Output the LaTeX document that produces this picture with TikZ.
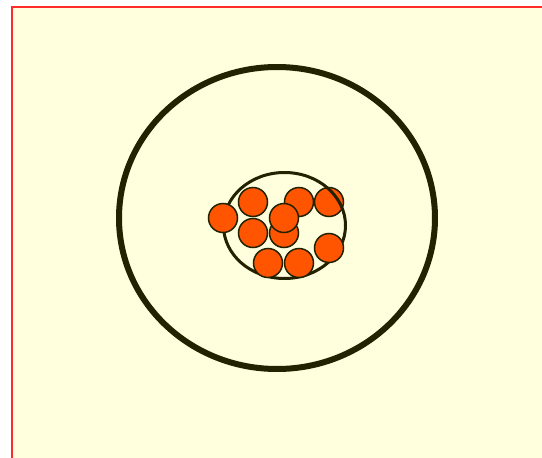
\documentclass[tikz,border=0pt]{standalone}
\usepackage{xcolor}
\definecolor{bg}{HTML}{FFFFDD}
\definecolor{frame}{HTML}{FF2A2A}
\definecolor{ink}{HTML}{222200}
\definecolor{ball}{HTML}{FF5500}
\begin{document}
\begin{tikzpicture}[x=1pt,y=-1pt,
  ballstyle/.style={circle,draw=ink,fill=ball,line width=1.5pt,minimum size=29pt,inner sep=0pt}]
\useasboundingbox (0,0) rectangle (542,458);
\fill[white] (0,0) rectangle (542,458);
\draw[frame,fill=bg,line width=2pt] (11.5,459) -- (11.5,6.5) -- (543,6.5);
\fill[bg] (12.5,7.5) rectangle (542,458);
\draw[ink,line width=6pt] (277,218) ellipse [x radius=158, y radius=151];
\node[ballstyle] (b4) at (329,202) {};
\draw[ink,line width=3pt] (284.5,225.5) ellipse [x radius=61, y radius=53];
\node[ballstyle] (b1) at (223,218) {};
\node[ballstyle] (b2) at (253,202) {};
\node[ballstyle] (b3) at (299,202) {};
\node[ballstyle] (b5) at (253,233) {};
\node[ballstyle] (b6) at (284,233) {};
\node[ballstyle] (b8) at (329,248) {};
\node[ballstyle] (b9) at (268,263) {};
\node[ballstyle] (b10) at (299,263) {};
\node[ballstyle] (b7) at (284,218) {};
\end{tikzpicture}
\end{document}
